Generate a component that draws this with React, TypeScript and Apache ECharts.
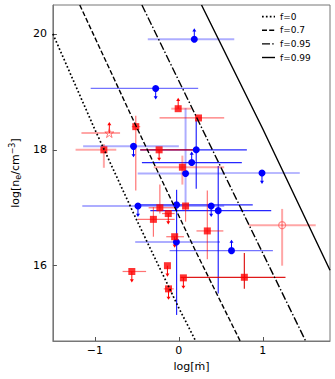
import React, { useEffect, useRef } from 'react';
import * as echarts from 'echarts';

const xTicks = [-1, 0, 1];
const yTicks = [16, 18, 20];

const fLabels = ['f=0', 'f=0.7', 'f=0.95', 'f=0.99'];
const f0X = [-1.5, -1.0, -0.5, 0.0, 0.2];
const f0Y = [20.0, 18.35, 16.78, 15.27, 14.7];
const f07X = [-1.18, -0.5, 0.2, 0.73];
const f07Y = [20.5, 18.38, 16.25, 14.7];
const f095X = [-0.44, 0.5, 1.51];
const f095Y = [20.5, 17.7, 14.7];
const f099X = [0.27, 1.0, 1.8];
const f099Y = [20.5, 18.36, 15.92];

// blue sample (circles)
const blueX = [0.184, -0.276, -0.54, 0.207, 0.153, 0.08, 0.99, -0.487, -0.027, 0.385, 0.469, -0.029, 0.627];
const blueY = [19.91, 19.06, 18.06, 18.0, 17.78, 17.59, 17.6, 17.03, 17.05, 17.03, 16.95, 16.41, 16.26];
const blueXLo = [-0.37, -1.05, -1.14, -0.46, -0.44, -0.49, 0.52, -1.15, -0.47, 0.385, -0.34, -0.52, -0.11];
const blueXHi = [0.66, 0.23, 0.0, 0.81, 0.75, 0.53, 1.44, 0.54, 0.88, 0.385, 1.1, 0.49, 1.12];
const blueYLo = [19.91, 19.06, 18.06, 17.33, 17.78, 17.05, 17.6, 17.03, 15.15, 17.03, 15.52, 16.41, 16.26];
const blueYHi = [19.91, 19.06, 18.06, 18.52, 17.78, 18.72, 17.6, 17.03, 17.31, 17.03, 17.72, 16.41, 16.26];
const blueLimit = [1, -1, -1, 0, 1, 0, -1, -1, 0, -1, 0, 0, 1];
const blueGroup = ['L', 'M', 'L', 'D', 'D', 'L', 'M', 'L', 'D', 'M', 'D', 'L', 'M'];

// red sample (squares, one star, one open circle)
const redX = [-0.008, 0.234, -0.513, -0.828, -0.893, -0.235, 0.042, -0.226, 0.08, -0.303, -0.126, 0.339, -0.05, 1.23, -0.56, -0.136, -0.123, 0.054, 0.78];
const redY = [18.71, 18.55, 18.4, 18.29, 18.0, 18.0, 17.7, 17.0, 17.03, 16.8, 16.9, 16.6, 16.5, 16.7, 15.9, 16.0, 15.6, 15.79, 15.8];
const redXLo = [-0.09, -0.23, -0.56, -1.16, -1.23, -0.46, -0.3, -0.36, 0.08, -0.49, -0.2, 0.21, -0.15, 0.83, -0.67, -0.136, -0.18, 0.054, 0.02];
const redXHi = [0.15, 0.54, -0.46, -0.7, -0.745, 0.2, 0.54, -0.05, 0.08, -0.05, -0.05, 0.53, 0.06, 1.63, -0.39, -0.136, -0.06, 0.054, 1.27];
const redYLo = [18.71, 18.55, 17.3, 18.29, 17.69, 18.0, 17.4, 16.9, 16.76, 16.5, 16.9, 16.11, 16.5, 16.0, 15.9, 16.0, 15.6, 15.79, 15.6];
const redYHi = [18.71, 18.55, 18.59, 18.29, 18.1, 18.0, 17.9, 17.4, 17.03, 17.01, 16.9, 17.3, 16.5, 16.98, 15.9, 16.0, 15.6, 15.79, 16.22];
const redLimit = [1, 0, 0, 1, 0, -1, 0, 0, 0, 0, -1, 0, -1, 0, -1, -1, -1, -1, 0];
const redGroup = ['L', 'M', 'M', 'L', 'L', 'D', 'L', 'M', 'M', 'M', 'M', 'M', 'M', 'L', 'M', 'M', 'M', 'D', 'D'];
const redMarker = ['sq', 'sq', 'sq', 'star', 'sq', 'sq', 'sq', 'sq', 'sq', 'sq', 'sq', 'sq', 'sq', 'open', 'sq', 'sq', 'sq', 'sq', 'sq'];

const FONT = 'DejaVu Sans';
const STAR = 'path://M0,-1 L0.223,-0.307 L0.951,-0.309 L0.361,0.117 L0.588,0.809 L0,0.38 L-0.588,0.809 L-0.361,0.117 L-0.951,-0.309 L-0.223,-0.307 Z';
const LINE_DASH: any[] = [[1.7, 2.2], [5, 2.2], [8, 2.2, 1.5, 2.2], null];
const LINE_W = [1.7, 1.4, 1.4, 1.4];

const blueShade: Record<string, { c: string; w: number }> = {
  L: { c: 'rgba(0,0,255,0.32)', w: 2 },
  M: { c: 'rgba(0,0,255,0.55)', w: 1.2 },
  D: { c: 'rgba(0,0,255,0.85)', w: 1.2 },
};
const redShade: Record<string, { c: string; w: number }> = {
  L: { c: 'rgba(255,0,0,0.35)', w: 2 },
  M: { c: 'rgba(255,0,0,0.55)', w: 1.2 },
  D: { c: 'rgba(220,0,0,0.9)', w: 1.2 },
};

const fmt = (v: number) => (v < 0 ? '\u2212' + Math.abs(v) : String(v));

function errSeries(X: number[], Y: number[], XLo: number[], XHi: number[], YLo: number[], YHi: number[], G: string[], shade: Record<string, { c: string; w: number }>) {
  return {
    type: 'custom',
    z: 2,
    silent: true,
    renderItem: (params: any, api: any) => {
      const i = params.dataIndex;
      const x = api.value(0);
      const y = api.value(1);
      const s = shade[G[i]];
      const p0 = api.coord([api.value(2), y]);
      const p1 = api.coord([api.value(3), y]);
      const q0 = api.coord([x, api.value(4)]);
      const q1 = api.coord([x, api.value(5)]);
      const children: any[] = [];
      if (Math.abs(p1[0] - p0[0]) > 0.5) {
        children.push({ type: 'line', shape: { x1: p0[0], y1: p0[1], x2: p1[0], y2: p1[1] }, style: { stroke: s.c, lineWidth: s.w } });
      }
      if (Math.abs(q1[1] - q0[1]) > 0.5) {
        children.push({ type: 'line', shape: { x1: q0[0], y1: q0[1], x2: q1[0], y2: q1[1] }, style: { stroke: s.c, lineWidth: s.w } });
      }
      return { type: 'group', children };
    },
    encode: { x: [0, 2, 3], y: [1, 4, 5] },
    data: X.map((x, i) => [x, Y[i], XLo[i], XHi[i], YLo[i], YHi[i]]),
  };
}

function arrowSeries(X: number[], Y: number[], L: number[], color: string) {
  const data: number[][] = [];
  X.forEach((x, i) => {
    if (L[i] !== 0) data.push([x, Y[i], L[i]]);
  });
  return {
    type: 'custom',
    z: 3,
    silent: true,
    renderItem: (params: any, api: any) => {
      const dir = api.value(2);
      const p = api.coord([api.value(0), api.value(1)]);
      const tip = p[1] - dir * 11;
      return {
        type: 'group',
        children: [
          { type: 'line', shape: { x1: p[0], y1: p[1], x2: p[0], y2: tip + dir * 2 }, style: { stroke: color, lineWidth: 1 } },
          { type: 'polygon', shape: { points: [[p[0], tip], [p[0] - 2, tip + dir * 3.2], [p[0] + 2, tip + dir * 3.2]] }, style: { fill: color } },
        ],
      };
    },
    encode: { x: 0, y: 1 },
    data,
  };
}

const curve = (X: number[], Y: number[]) => X.map((x, i) => [x, Y[i]]);

export default function App() {
  const ref = useRef<HTMLDivElement>(null);
  useEffect(() => {
    const chart = echarts.init(ref.current!, undefined, { renderer: 'svg' });
    const curves = [curve(f0X, f0Y), curve(f07X, f07Y), curve(f095X, f095Y), curve(f099X, f099Y)];
    const lineSeries = fLabels.map((name, k) => ({
      type: 'line',
      name,
      data: curves[k],
      symbol: 'none',
      z: 5,
      silent: true,
      lineStyle: { color: '#000', width: LINE_W[k], type: LINE_DASH[k] || 'solid' },
    }));
    const legendItems: any[] = [];
    fLabels.forEach((name, k) => {
      const y = 16.7 + k * 13.6;
      legendItems.push({
        type: 'line',
        shape: { x1: 262, y1: y, x2: 275, y2: y },
        style: { stroke: '#000', lineWidth: LINE_W[k], lineDash: LINE_DASH[k] || undefined },
        z: 10,
      });
      legendItems.push({
        type: 'text',
        x: 280,
        y,
        style: { text: name, fontFamily: FONT, fontSize: 9, fill: '#000', verticalAlign: 'middle', align: 'left' },
        z: 10,
      });
    });
    const redData = redX.map((x, i) => {
      const m = redMarker[i];
      if (m === 'star') {
        return { value: [x, redY[i]], symbol: STAR, symbolSize: 9, itemStyle: { color: 'rgba(255,255,255,0)', borderColor: 'rgba(255,60,60,0.85)', borderWidth: 1 } };
      }
      if (m === 'open') {
        return { value: [x, redY[i]], symbol: 'circle', symbolSize: 7, itemStyle: { color: 'rgba(255,255,255,0)', borderColor: 'rgba(255,80,80,0.8)', borderWidth: 1.2 } };
      }
      return { value: [x, redY[i]], symbol: 'rect', symbolSize: 7, itemStyle: { color: '#ff0000' } };
    });
    const option: any = {
      animation: false,
      grid: { left: 42, right: 5, top: 5, bottom: 38, show: true, borderColor: '#777', borderWidth: 1 },
      graphic: legendItems,
      xAxis: {
        type: 'value',
        min: -1.5,
        max: 1.8,
        axisLine: { show: true, onZero: false, lineStyle: { color: '#777' } },
        axisTick: { show: true, inside: true, length: 4, lineStyle: { color: '#555' }, customValues: xTicks },
        axisLabel: { customValues: xTicks, formatter: fmt, fontFamily: FONT, fontSize: 11, color: '#000', margin: 4 },
        splitLine: { show: false },
        name: 'log[ṁ]',
        nameLocation: 'middle',
        nameGap: 18,
        nameTextStyle: { fontFamily: FONT, fontSize: 11, color: '#000', verticalAlign: 'top' },
      },
      yAxis: {
        type: 'value',
        min: 14.7,
        max: 20.5,
        axisLine: { show: true, onZero: false, lineStyle: { color: '#777' } },
        axisTick: { show: true, inside: true, length: 4, lineStyle: { color: '#555' }, customValues: yTicks },
        axisLabel: { customValues: yTicks, formatter: fmt, fontFamily: FONT, fontSize: 11, color: '#000', margin: 6 },
        splitLine: { show: false },
        name: 'log[n{sub|e}/cm{sup|\u22123}]',
        nameLocation: 'middle',
        nameRotate: 90,
        nameGap: 22,
        nameTextStyle: {
          fontFamily: FONT,
          fontSize: 11,
          color: '#000',
          lineHeight: 14,
          rich: {
            sub: { fontFamily: FONT, fontSize: 8, color: '#000', lineHeight: 8, verticalAlign: 'bottom' },
            sup: { fontFamily: FONT, fontSize: 8, color: '#000', lineHeight: 8, verticalAlign: 'top' },
          },
        },
      },
      series: [
        errSeries(blueX, blueY, blueXLo, blueXHi, blueYLo, blueYHi, blueGroup, blueShade),
        errSeries(redX, redY, redXLo, redXHi, redYLo, redYHi, redGroup, redShade),
        arrowSeries(blueX, blueY, blueLimit, '#0000ff'),
        arrowSeries(redX, redY, redLimit, '#ff0000'),
        {
          type: 'scatter',
          z: 4,
          silent: true,
          symbol: 'circle',
          symbolSize: 7,
          itemStyle: { color: '#0000ff', opacity: 1 },
          data: blueX.map((x, i) => [x, blueY[i]]),
        },
        {
          type: 'scatter',
          z: 4,
          silent: true,
          data: redData,
        },
        ...lineSeries,
      ],
    };
    chart.setOption(option);
    return () => chart.dispose();
  }, []);
  return <div ref={ref} style={{ position: 'absolute', left: 0, top: 0, width: 335, height: 379 }} />;
}
